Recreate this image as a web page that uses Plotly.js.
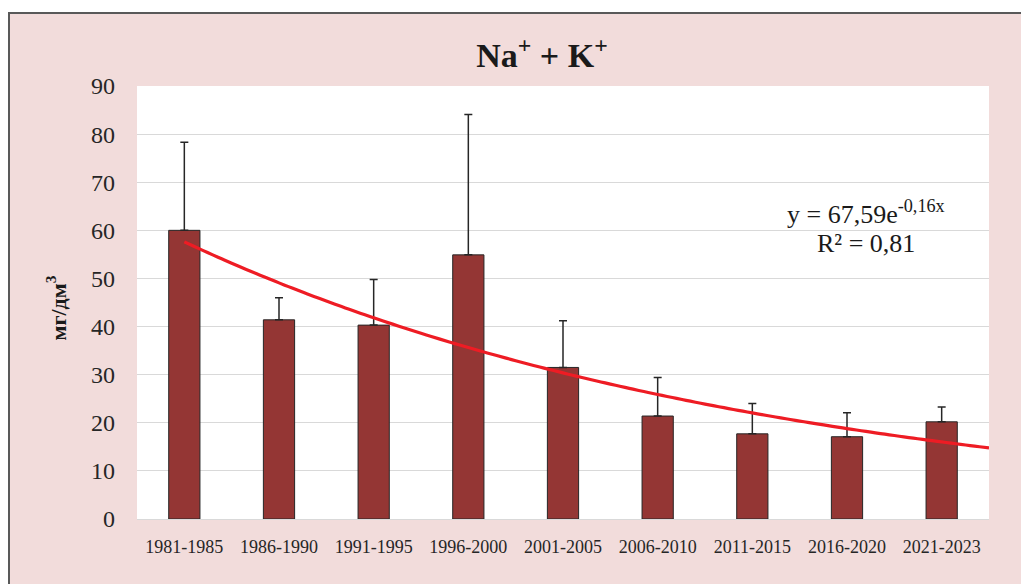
<!DOCTYPE html>
<html>
<head>
<meta charset="utf-8">
<script src="https://cdn.plot.ly/plotly-3.0.1.min.js"></script>
<style>
  html, body { margin: 0; padding: 0; background: #ffffff; }
  #frame { position: absolute; left: 8px; top: 12px; width: 1013px; height: 572px;
           background: #f2dcdb; border-left: 2px solid #595959; border-top: 2px solid #595959; box-sizing: border-box; }
  #chart { position: absolute; left: 0; top: 0; width: 1021px; height: 584px; }
</style>
</head>
<body>
<div id="frame"></div>
<div id="chart"></div>
<script>
// Data
const periods = ['1981-1985','1986-1990','1991-1995','1996-2000','2001-2005','2006-2010','2011-2015','2016-2020','2021-2023'];
const means   = [60.0, 41.4, 40.3, 54.9, 31.5, 21.4, 17.7, 17.1, 20.2];
const errPlus = [18.3, 4.6, 9.5, 29.2, 9.7, 8.0, 6.3, 5.0, 3.1];
// Exponential trendline as stated on the chart: y = 67,59·e^(-0,16x)
const trendA = 67.59;
const trendB = -0.16;
const yTicks = [0, 10, 20, 30, 40, 50, 60, 70, 80, 90];

const xs = periods.map((_, i) => i + 1);
const trendX = [];
for (let x = 1; x <= 9.5 + 1e-9; x += 0.1) trendX.push(x);
const trendY = trendX.map(x => trendA * Math.exp(trendB * x));

const bars = {
  type: 'bar', x: xs, y: means, width: 0.33,
  marker: { color: '#943634', line: { color: '#262626', width: 1 } },
  error_y: { type: 'data', symmetric: false, array: errPlus, arrayminus: means.map(() => 0),
             color: '#262626', thickness: 1.5, width: 4 },
  hoverinfo: 'x+y', showlegend: false
};
const trend = {
  type: 'scatter', mode: 'lines', x: trendX, y: trendY,
  line: { color: '#ee1c24', width: 3.2, shape: 'spline' }, hoverinfo: 'skip', showlegend: false
};

const serif = 'Liberation Serif, Times New Roman, serif';
const layout = {
  width: 1021, height: 584,
  paper_bgcolor: 'rgba(0,0,0,0)', plot_bgcolor: '#ffffff',
  margin: { l: 137, r: 32, t: 86, b: 65 },
  title: { text: '<b>Na<sup>+</sup> + K<sup>+</sup></b>', font: { family: serif, size: 34, color: '#1a1a1a' },
           x: (542 - 137) / 852, xanchor: 'center', xref: 'paper', y: 1 - 55/584, yanchor: 'middle', yref: 'container' },
  xaxis: { range: [0.5, 9.5], tickvals: xs, ticktext: periods, ticks: '', showgrid: false, zeroline: false,
           showline: true, linecolor: '#d9d9d9', linewidth: 1,
           tickfont: { family: serif, size: 18, color: '#262626' }, ticklabelstandoff: 11, fixedrange: true },
  yaxis: { range: [0, 90], tickvals: yTicks, ticktext: yTicks.map(String), ticks: '', showgrid: true,
           gridcolor: '#d9d9d9', gridwidth: 1, zeroline: false, showline: false,
           tickfont: { family: serif, size: 24, color: '#262626' }, ticklabelstandoff: 21, fixedrange: true },
  annotations: [
    { text: '<b>мг/дм<sup>3</sup></b>', xref: 'paper', yref: 'paper', x: (56 - 137) / 852, y: (518 - 308) / 432,
      xanchor: 'center', yanchor: 'middle', textangle: -90, showarrow: false,
      font: { family: serif, size: 22, color: '#1a1a1a' } },
    { text: 'y = 67,59e<sup>-0,16x</sup>', xref: 'paper', yref: 'paper', x: (866 - 137) / 852, y: (518 - 212) / 432,
      xanchor: 'center', yanchor: 'middle', showarrow: false, font: { family: serif, size: 26, color: '#1a1a1a' } },
    { text: 'R² = 0,81', xref: 'paper', yref: 'paper', x: (866 - 137) / 852, y: (518 - 243) / 432,
      xanchor: 'center', yanchor: 'middle', showarrow: false, font: { family: serif, size: 26, color: '#1a1a1a' } }
  ],
  bargap: 0.67
};

Plotly.newPlot('chart', [bars, trend], layout, { displayModeBar: false, staticPlot: true });
</script>
</body>
</html>
